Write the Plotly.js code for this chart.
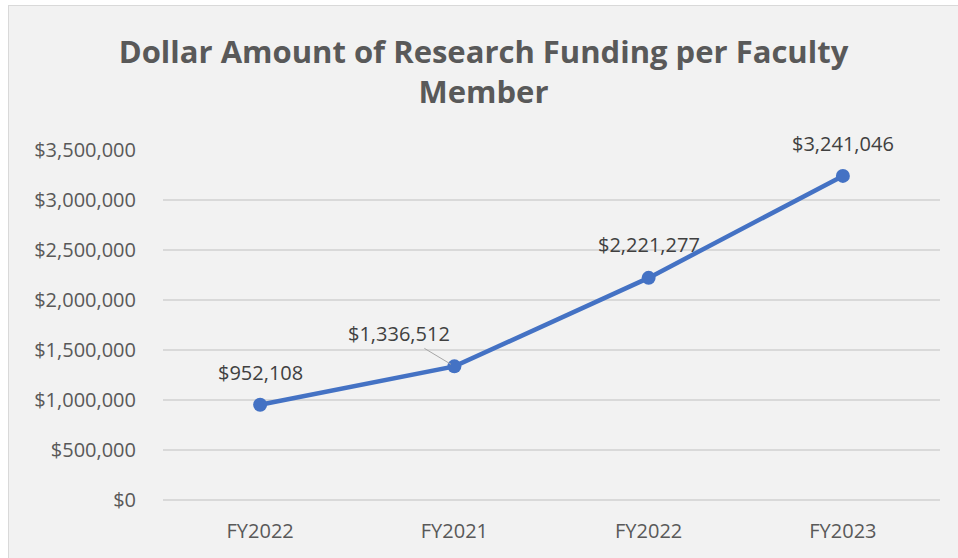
<!DOCTYPE html>
<html>
<head>
<meta charset="utf-8">
<script src="https://cdn.plot.ly/plotly-3.0.1.min.js"></script>
<style>
  html, body { margin: 0; padding: 0; background: #ffffff; width: 958px; height: 558px; overflow: hidden; }
  #frame { position: absolute; left: 8px; top: 5px; border-left: 1px solid #d9d9d9; border-top: 1px solid #d9d9d9; }
  #chart { width: 949px; height: 552px; }
</style>
</head>
<body>
<div id="frame"><div id="chart"></div></div>
<script>
const categories = ["FY2022", "FY2021", "FY2022", "FY2023"];
const funding = [952108, 1336512, 2221277, 3241046];
const yTicks = [0, 500000, 1000000, 1500000, 2000000, 2500000, 3000000, 3500000];

const xIdx = categories.map((_, i) => i);
const labels = funding.map(v => "$" + v.toLocaleString("en-US"));

const labelOffsets = [[0, -32], [-55, -33], [0, -33], [0, -32]];
const annotations = funding.map((v, i) => ({
  x: xIdx[i], y: v, xref: "x", yref: "y",
  text: labels[i],
  showarrow: true,
  arrowhead: 0, arrowwidth: 1, arrowcolor: i === 1 ? "#a6a6a6" : "rgba(0,0,0,0)",
  ax: labelOffsets[i][0], ay: labelOffsets[i][1],
  standoff: 4,
  font: { family: "Open Sans, sans-serif", size: 20, color: "#404040" }
}));

const trace = {
  x: xIdx, y: funding, type: "scatter", mode: "lines+markers",
  line: { color: "#4472C4", width: 4.5 },
  marker: { color: "#4472C4", size: 14 },
  hoverinfo: "skip"
};

const layout = {
  width: 949, height: 552,
  paper_bgcolor: "#f2f2f2", plot_bgcolor: "#f2f2f2",
  margin: { l: 154, r: 18, t: 144, b: 58 },
  showlegend: false,
  title: {
    text: "Dollar Amount of Research Funding per Faculty<br>Member",
    font: { family: "Open Sans, sans-serif", size: 31, color: "#595959", weight: "bold" },
    x: 0.5, xanchor: "center", xref: "container",
    y: 1 - 57 / 552, yanchor: "top", yref: "container"
  },
  xaxis: {
    range: [-0.5, 3.5], tickmode: "array", tickvals: xIdx, ticktext: categories,
    showgrid: false, zeroline: false, showline: false, ticks: "",
    ticklabelstandoff: 17,
    tickfont: { family: "Open Sans, sans-serif", size: 20, color: "#595959" },
    fixedrange: true
  },
  yaxis: {
    range: [0, 3500000], tickmode: "array", tickvals: yTicks,
    tickformat: "$,.0f",
    showgrid: true, gridcolor: "#d9d9d9", gridwidth: 1.5,
    zeroline: true, zerolinecolor: "#d9d9d9", zerolinewidth: 1.5,
    showline: false, ticks: "",
    ticklabelstandoff: 26,
    tickfont: { family: "Open Sans, sans-serif", size: 20, color: "#595959" },
    fixedrange: true
  },
  annotations: annotations
};

Plotly.newPlot("chart", [trace], layout, { staticPlot: true, displayModeBar: false });
</script>
</body>
</html>
